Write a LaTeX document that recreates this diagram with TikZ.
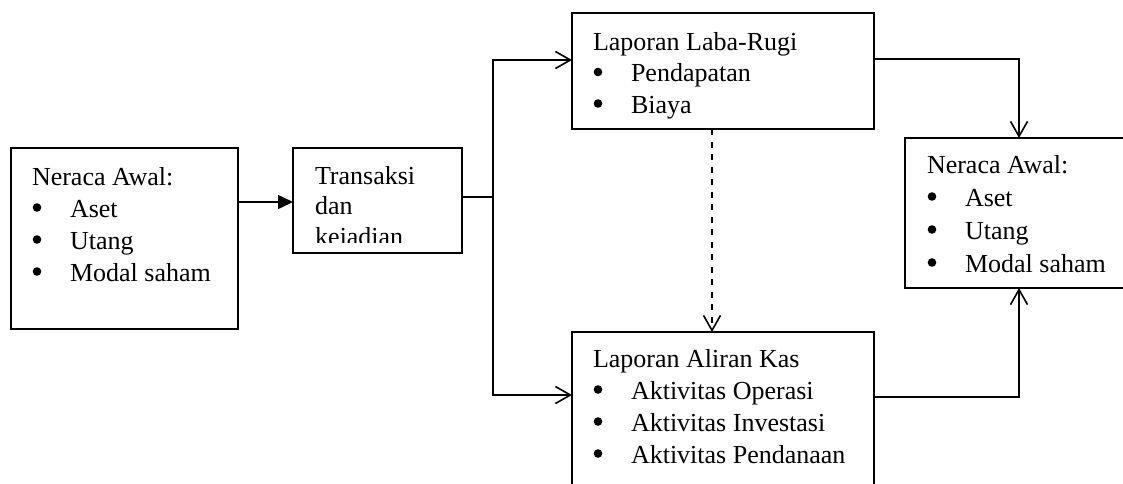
\documentclass[tikz,border=0pt]{standalone}
\usepackage{fontspec}
\setmainfont{Liberation Serif}
\usetikzlibrary{arrows.meta}
\newcommand{\bul}{\tikz[baseline=0pt]{\path (0pt,0pt); \fill (5pt,9.5pt) circle (4.3pt);}}
\newcommand{\itm}[1]{\makebox[38pt][l]{\bul}#1}
\tikzset{
  box/.style={draw, line width=1.6pt, inner sep=0pt, outer sep=0pt, anchor=north west},
  txt/.style={inner sep=0pt, outer sep=0pt, anchor=base west, font=\fontsize{26}{32}\selectfont},
  conn/.style={line width=1.6pt},
  barb/.style={conn, -{Straight Barb[length=15pt,width=17pt,line width=1.6pt]}},
  tri/.style={conn, -{Triangle[length=15pt,width=14pt]}}
}
\begin{document}
\begin{tikzpicture}[x=1pt,y=-1pt]
\useasboundingbox (0,0) rectangle (1123,483);
\clip (0,0) rectangle (1123,483);
% boxes
\node[box, minimum width=227pt, minimum height=181pt] (b1) at (11,148) {};
\node[box, minimum width=169pt, minimum height=105pt] (b2) at (293,148) {};
\node[box, minimum width=302pt, minimum height=116pt] (b3) at (572,13) {};
\node[box, minimum width=302pt, minimum height=200pt] (b4) at (572,332) {};
\node[box, minimum width=240pt, minimum height=150pt] (b5) at (905,138) {};
% texts
\node[txt] (t1) at (32,185) {\begin{tabular}[t]{@{}l@{}}Neraca Awal:\\ \itm{Aset}\\ \itm{Utang}\\ \itm{Modal saham}\end{tabular}};
\begin{scope}
\clip (293,148) rectangle (462,242);
\node[txt, font=\fontsize{26}{30.5}\selectfont] (t2) at (315,184) {\begin{tabular}[t]{@{}l@{}}Transaksi\\ dan\\ kejadian\end{tabular}};
\end{scope}
\node[txt, font=\fontsize{26}{31.5}\selectfont] (t3) at (593,50) {\begin{tabular}[t]{@{}l@{}}Laporan Laba-Rugi\\ \itm{Pendapatan}\\ \itm{Biaya}\end{tabular}};
\node[txt] (t4) at (593,367) {\begin{tabular}[t]{@{}l@{}}Laporan Aliran Kas\\ \itm{Aktivitas Operasi}\\ \itm{Aktivitas Investasi}\\ \itm{Aktivitas Pendanaan}\end{tabular}};
\node[txt, font=\fontsize{26}{33}\selectfont] (t5) at (927,173) {\begin{tabular}[t]{@{}l@{}}Neraca Awal:\\ \itm{Aset}\\ \itm{Utang}\\ \itm{Modal saham}\end{tabular}};
% connectors
\coordinate (j) at (493,197);
\draw[tri] (b1.east |- 0,202) -- (b2.west |- 0,202);
\draw[conn] (b2.east |- j) -- (j);
\draw[barb] (j) |- (b3.west |- 0,60);
\draw[barb] (j) |- (b4.west |- 0,395);
\draw[barb, dash pattern=on 6pt off 6.5pt] (b3.south -| 712,0) -- (b4.north -| 712,0);
\draw[barb] (b3.east |- 0,59) -| (b5.north -| 1019,0);
\draw[barb] (b4.east |- 0,397) -| (b5.south -| 1019,0);
\end{tikzpicture}
\end{document}
